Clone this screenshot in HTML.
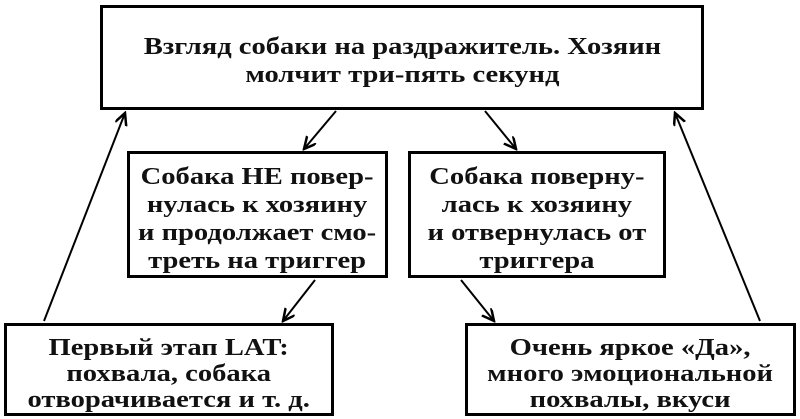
<!DOCTYPE html>
<html><head><meta charset="utf-8"><style>
body{margin:0;width:800px;height:419px;background:#fff;position:relative;overflow:hidden;font-family:"Liberation Serif",serif;}
.b{position:absolute;border:3px solid #000;box-sizing:border-box;display:flex;align-items:center;justify-content:center;text-align:center;font-weight:bold;font-size:24px;line-height:28px;color:#111;padding-top:8px;}
.b span{display:inline-block;transform:scaleX(1.19);white-space:nowrap;}
svg{position:absolute;left:0;top:0;}
</style></head><body>
<div class="b" style="left:100px;top:5px;width:604px;height:105px;padding-top:6px;"><span>Взгляд собаки на раздражитель. Хозяин<br>молчит три-пять секунд</span></div>
<div class="b" style="left:127px;top:151px;width:261px;height:127px;"><span>Собака НЕ повер-<br>нулась к хозяину<br>и продолжает смо-<br>треть на триггер</span></div>
<div class="b" style="left:408px;top:151px;width:258px;height:127px;"><span>Собака поверну-<br>лась к хозяину<br>и отвернулась от<br>триггера</span></div>
<div class="b" style="left:4px;top:323px;width:330px;height:93px;line-height:26px;"><span>Первый этап LAT:<br>похвала, собака<br>отворачивается и т. д.</span></div>
<div class="b" style="left:465px;top:323px;width:331px;height:93px;line-height:26px;"><span>Очень яркое «Да»,<br>много эмоциональной<br>похвалы, вкуси</span></div>
<svg width="800" height="419">
<defs><marker id="a" markerWidth="14" markerHeight="14" refX="12" refY="6" orient="auto" markerUnits="userSpaceOnUse"><path d="M0,0 L12,6 L0,12" fill="none" stroke="#000" stroke-width="2.5"/></marker></defs>
<g stroke="#000" stroke-width="2" fill="none" marker-end="url(#a)">
<line x1="336" y1="111" x2="304" y2="149"/>
<line x1="485" y1="111" x2="516" y2="149"/>
<line x1="315" y1="280" x2="283" y2="321"/>
<line x1="461" y1="280" x2="494" y2="321"/>
<line x1="44" y1="321" x2="125" y2="113"/>
<line x1="760" y1="321" x2="675" y2="113"/>
</g>
</svg>
</body></html>
